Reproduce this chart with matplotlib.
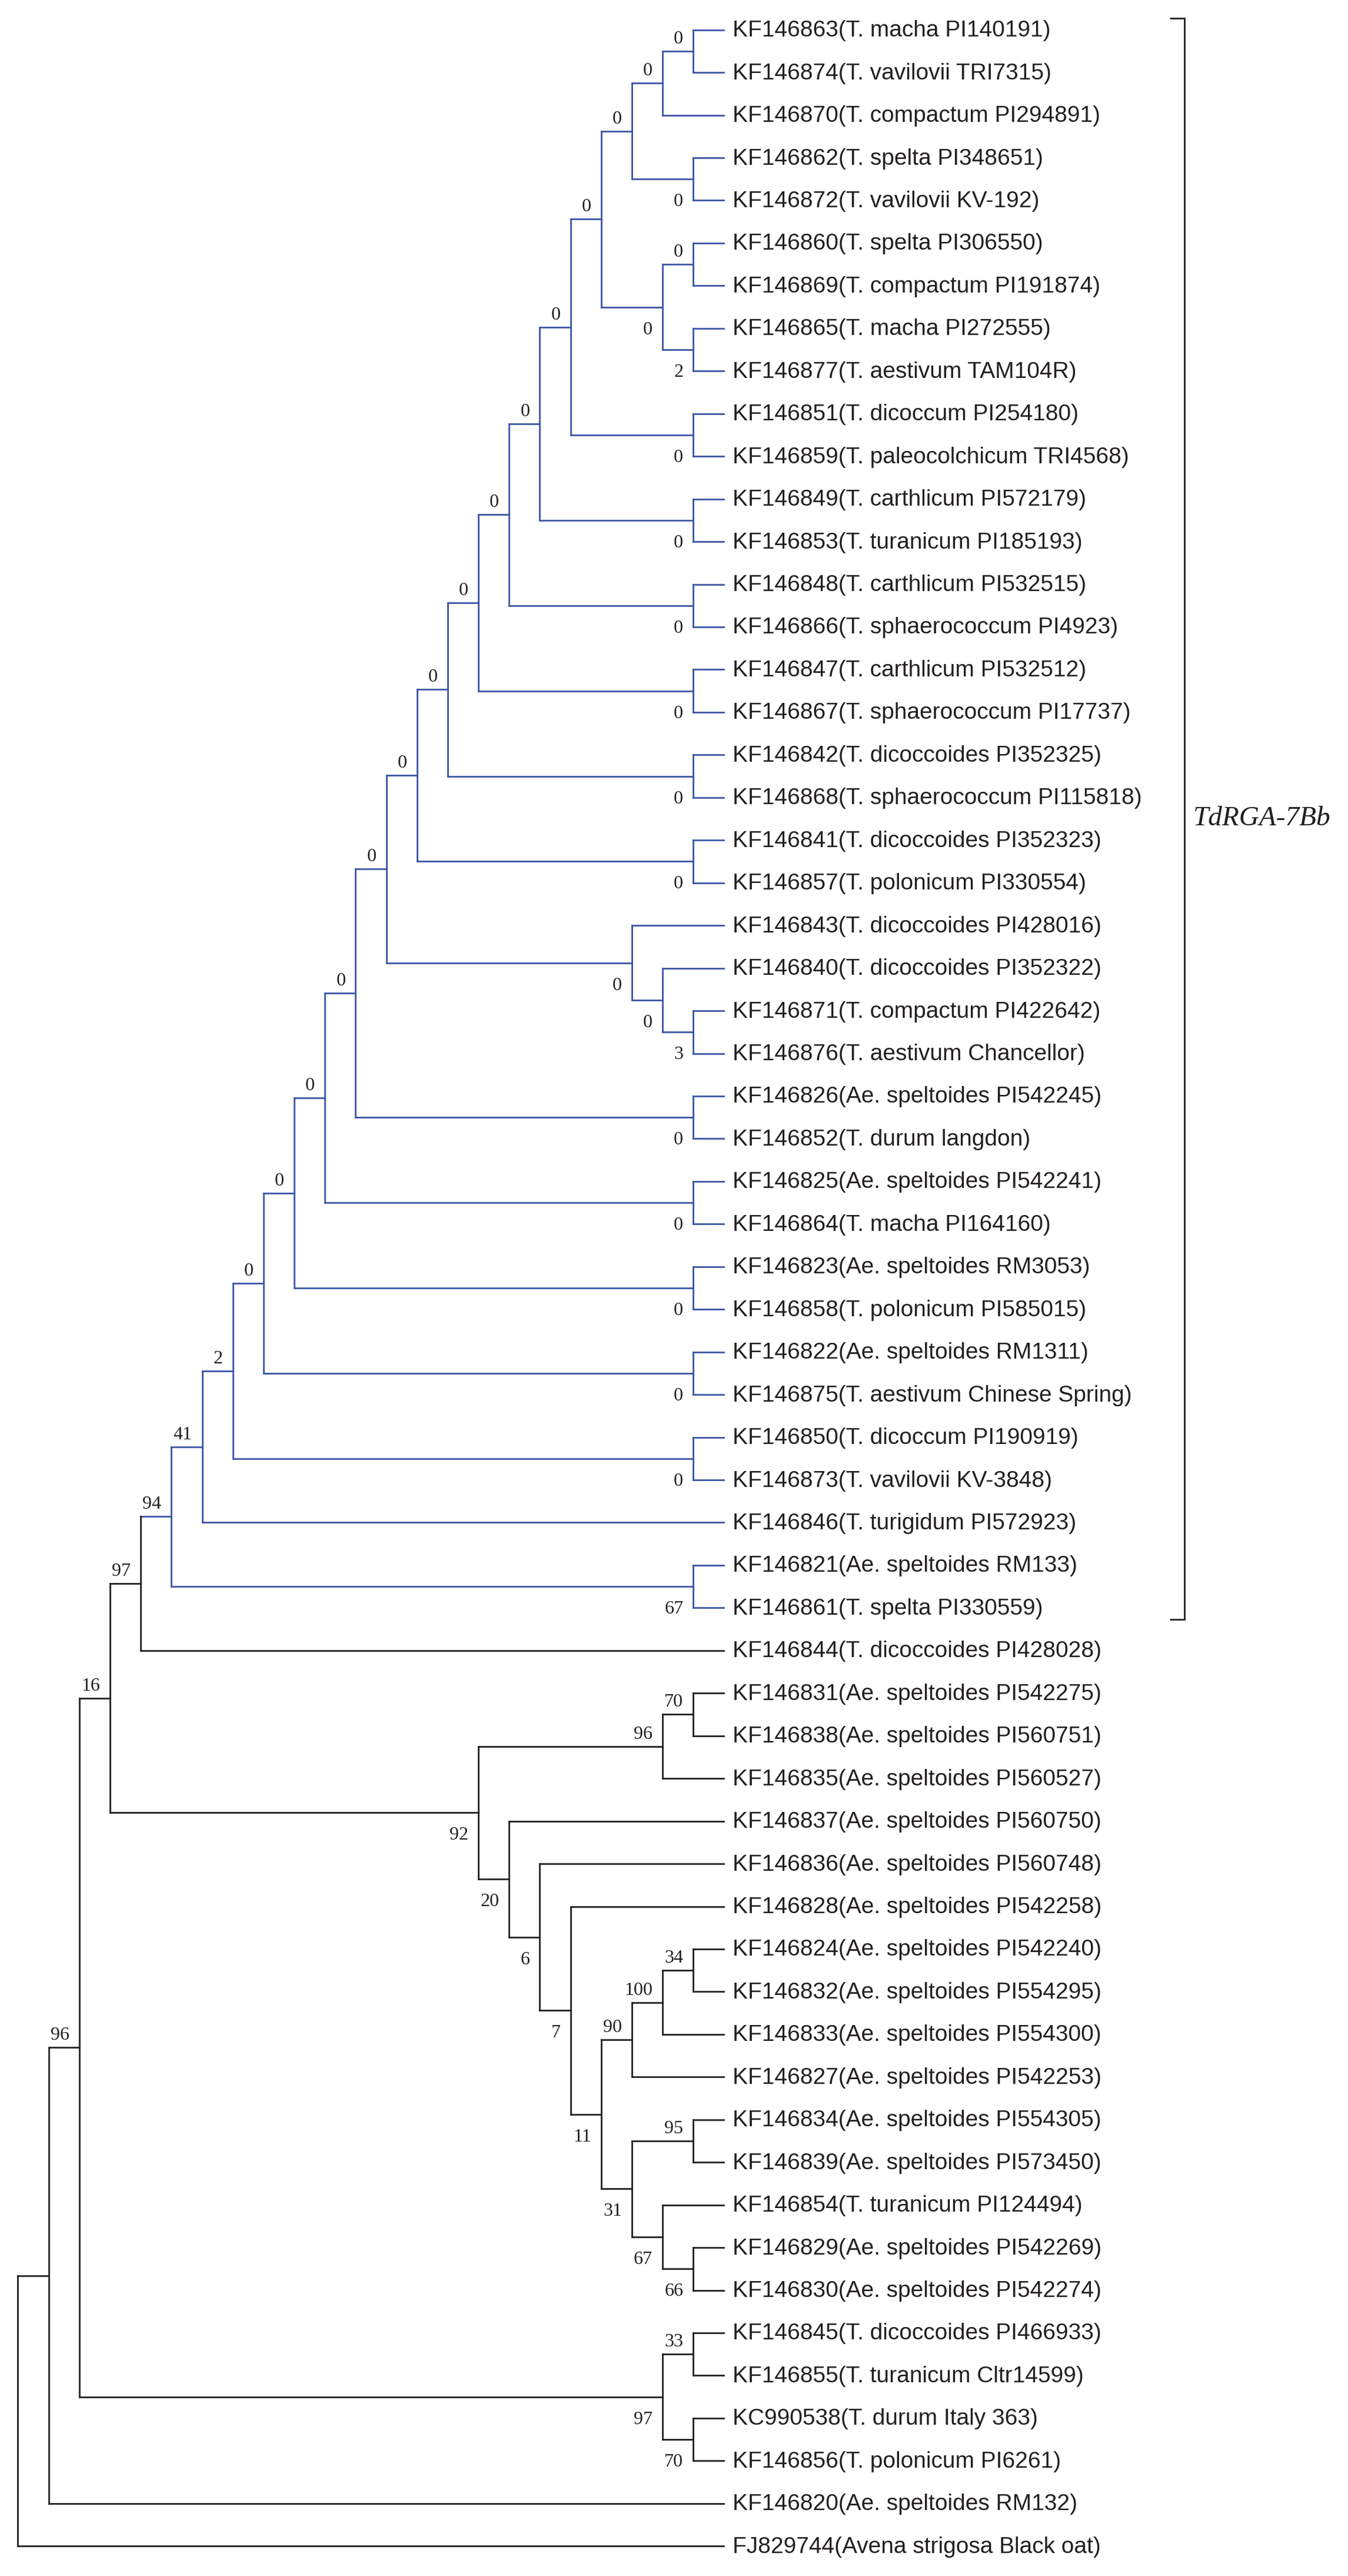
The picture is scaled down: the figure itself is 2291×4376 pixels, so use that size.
import matplotlib
matplotlib.use('Agg')
import matplotlib.pyplot as plt

# ---------------- data ----------------
leaf_labels = [
    "KF146863(T. macha PI140191)",
    "KF146874(T. vavilovii TRI7315)",
    "KF146870(T. compactum PI294891)",
    "KF146862(T. spelta PI348651)",
    "KF146872(T. vavilovii KV-192)",
    "KF146860(T. spelta PI306550)",
    "KF146869(T. compactum PI191874)",
    "KF146865(T. macha PI272555)",
    "KF146877(T. aestivum TAM104R)",
    "KF146851(T. dicoccum PI254180)",
    "KF146859(T. paleocolchicum TRI4568)",
    "KF146849(T. carthlicum PI572179)",
    "KF146853(T. turanicum PI185193)",
    "KF146848(T. carthlicum PI532515)",
    "KF146866(T. sphaerococcum PI4923)",
    "KF146847(T. carthlicum PI532512)",
    "KF146867(T. sphaerococcum PI17737)",
    "KF146842(T. dicoccoides PI352325)",
    "KF146868(T. sphaerococcum PI115818)",
    "KF146841(T. dicoccoides PI352323)",
    "KF146857(T. polonicum PI330554)",
    "KF146843(T. dicoccoides PI428016)",
    "KF146840(T. dicoccoides PI352322)",
    "KF146871(T. compactum PI422642)",
    "KF146876(T. aestivum Chancellor)",
    "KF146826(Ae. speltoides PI542245)",
    "KF146852(T. durum langdon)",
    "KF146825(Ae. speltoides PI542241)",
    "KF146864(T. macha PI164160)",
    "KF146823(Ae. speltoides RM3053)",
    "KF146858(T. polonicum PI585015)",
    "KF146822(Ae. speltoides RM1311)",
    "KF146875(T. aestivum Chinese Spring)",
    "KF146850(T. dicoccum PI190919)",
    "KF146873(T. vavilovii KV-3848)",
    "KF146846(T. turigidum PI572923)",
    "KF146821(Ae. speltoides RM133)",
    "KF146861(T. spelta PI330559)",
    "KF146844(T. dicoccoides PI428028)",
    "KF146831(Ae. speltoides PI542275)",
    "KF146838(Ae. speltoides PI560751)",
    "KF146835(Ae. speltoides PI560527)",
    "KF146837(Ae. speltoides PI560750)",
    "KF146836(Ae. speltoides PI560748)",
    "KF146828(Ae. speltoides PI542258)",
    "KF146824(Ae. speltoides PI542240)",
    "KF146832(Ae. speltoides PI554295)",
    "KF146833(Ae. speltoides PI554300)",
    "KF146827(Ae. speltoides PI542253)",
    "KF146834(Ae. speltoides PI554305)",
    "KF146839(Ae. speltoides PI573450)",
    "KF146854(T. turanicum PI124494)",
    "KF146829(Ae. speltoides PI542269)",
    "KF146830(Ae. speltoides PI542274)",
    "KF146845(T. dicoccoides PI466933)",
    "KF146855(T. turanicum Cltr14599)",
    "KC990538(T. durum Italy 363)",
    "KF146856(T. polonicum PI6261)",
    "KF146820(Ae. speltoides RM132)",
    "FJ829744(Avena strigosa Black oat)",
]

# internal nodes (ids 60, 61, ... in this order); children refer to leaf ids 0..59
# or to earlier internal node ids
merge_upper = [0, 60, 3, 61, 5, 7, 64, 63, 9, 67, 11, 69, 13, 71, 15, 73, 17, 75, 19, 77,
               23, 22, 21, 79, 25, 83, 27, 85, 29, 87, 31, 89, 33, 91, 93, 36, 94, 96,
               39, 98, 45, 100, 101, 49, 52, 51, 103, 102, 44, 43, 42, 99, 97, 54, 56, 113,
               112, 116, 117]
merge_lower = [1, 2, 4, 62, 6, 8, 65, 66, 10, 68, 12, 70, 14, 72, 16, 74, 18, 76, 20, 78,
               24, 80, 81, 82, 26, 84, 28, 86, 30, 88, 32, 90, 34, 92, 35, 37, 95, 38,
               40, 41, 46, 47, 48, 50, 53, 104, 105, 106, 107, 108, 109, 110, 111, 55, 57, 114,
               115, 58, 59]
support = [0, 0, 0, 0, 0, 2, 0, 0, 0, 0, 0, 0, 0, 0, 0, 0, 0, 0, 0, 0,
           3, 0, 0, 0, 0, 0, 0, 0, 0, 0, 0, 0, 0, 2, 41, 67, 94, 97,
           70, 96, 34, 100, 90, 95, 66, 67, 31, 11, 7, 6, 20, 92, 16, 33, 70, 97,
           96, None, None]

clade_node = 96           # internal node id of the highlighted clade
clade_name = "TdRGA-7Bb"

# ---------------- layout / style ----------------
W_PX, H_PX, DPI = 2291, 4376, 100
ROOT_PX, STEP_PX = 30.5, 52.17
TOP_PX, ROW_PX = 50.7, 72.45
BRACKET_PX = 2013
PT = 72.0 / DPI
BLUE = '#3a55a5'
DARK = '#231f20'
LW = 2.0

n_leaves = len(leaf_labels)
children = {}
for k, (a, b) in enumerate(zip(merge_upper, merge_lower)):
    children[n_leaves + k] = (a, b)
root = n_leaves + len(merge_upper) - 1

parent, is_upper = {}, {}
for n, (a, b) in children.items():
    parent[a], parent[b] = n, n
    is_upper[a], is_upper[b] = True, False

height, ypos = {}, {}
for i in range(n_leaves):
    height[i] = 0
    ypos[i] = float(i)
for n in sorted(children):
    a, b = children[n]
    height[n] = 1 + max(height[a], height[b])
    ypos[n] = (ypos[a] + ypos[b]) / 2.0
H_ROOT = height[root]
xpos = {n: H_ROOT - h for n, h in height.items()}

def descendants(n):
    out = {n}
    if n in children:
        for c in children[n]:
            out |= descendants(c)
    return out

clade = descendants(clade_node)
clade_leaves = sorted(i for i in clade if i < n_leaves)

fig = plt.figure(figsize=(W_PX / DPI, H_PX / DPI), dpi=DPI)
fig.patch.set_facecolor('white')
ax = fig.add_axes([0, 0, 1, 1])
ax.set_xlim(-ROOT_PX / STEP_PX, (W_PX - ROOT_PX) / STEP_PX)
ax.set_ylim((H_PX - TOP_PX) / ROW_PX, -TOP_PX / ROW_PX)
ax.axis('off')

kw = dict(lw=LW, solid_capstyle='projecting')
for n in xpos:
    col = BLUE if n in clade else DARK
    if n in parent:
        p = parent[n]
        ax.plot([xpos[p], xpos[n]], [ypos[n], ypos[n]], color=col, **kw)
    if n in children:
        a, b = children[n]
        ax.plot([xpos[n], xpos[n]], [ypos[a], ypos[b]], color=col, **kw)

# leaf labels
for i, lab in enumerate(leaf_labels):
    ax.annotate(lab, xy=(xpos[i], ypos[i]), xytext=(15 * PT, -11.5 * PT),
                textcoords='offset points', ha='left', va='baseline',
                fontsize=28, family='Liberation Sans', color=DARK)

# bootstrap values
for k, s in enumerate(support):
    if s is None:
        continue
    n = n_leaves + k
    dy = 13 if is_upper.get(n, True) else -46
    ax.annotate(str(s), xy=(xpos[n], ypos[n]), xytext=(-17 * PT, dy * PT),
                textcoords='offset points', ha='right', va='baseline',
                fontsize=23, family='Liberation Serif', color=DARK)

# clade bracket
bx = (BRACKET_PX - ROOT_PX) / STEP_PX
tick = 25 / STEP_PX
y0 = clade_leaves[0] - 0.27
y1 = clade_leaves[-1] + 0.27
ax.plot([bx - tick, bx, bx, bx - tick], [y0, y0, y1, y1], color=DARK,
        lw=LW, solid_joinstyle='miter', solid_capstyle='butt')
ax.annotate(clade_name, xy=(bx, (clade_leaves[0] + clade_leaves[-1]) / 2.0),
            xytext=(15 * PT, 0), textcoords='offset points', ha='left', va='center',
            fontsize=34, family='Liberation Serif', style='italic', color=DARK)

fig.savefig('out.png', dpi=DPI, facecolor='white')
